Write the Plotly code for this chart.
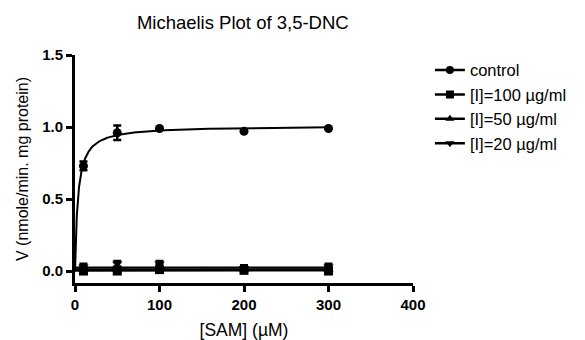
import numpy as np
import plotly.graph_objects as go

# ---- data ----
sam = [10, 50, 100, 200, 300]

control = [0.73, 0.96, 0.99, 0.97, 0.99]
control_err = [0.03, 0.05, 0.0, 0.0, 0.0]

i100 = [0.0, 0.0, 0.01, 0.005, 0.0]
i100_err = [0.01, 0.01, 0.01, 0.01, 0.01]

i50 = [0.01, 0.01, 0.03, 0.01, 0.01]
i50_err = [0.02, 0.02, 0.02, 0.02, 0.02]

i20 = [0.03, 0.05, 0.05, 0.02, 0.03]
i20_err = [0.02, 0.02, 0.02, 0.02, 0.02]

# Michaelis-Menten fit parameters (Vmax, Km) per series
fit_params = {
    "control": (1.01, 3.5),
    "[I]=100 µg/ml": (0.003, 0.05),
    "[I]=50 µg/ml": (0.013, 0.05),
    "[I]=20 µg/ml": (0.025, 0.05),
}

series = [
    ("control", control, control_err, "circle"),
    ("[I]=100 µg/ml", i100, i100_err, "square"),
    ("[I]=50 µg/ml", i50, i50_err, "triangle-up"),
    ("[I]=20 µg/ml", i20, i20_err, "triangle-down"),
]

FONT = "Liberation Sans, Arial, sans-serif"
fig = go.Figure()

xfit = np.concatenate([np.linspace(0, 20, 200), np.linspace(20, 300, 200)])
for name, y, err, sym in series:
    vmax, km = fit_params[name]
    yfit = vmax * xfit / (km + xfit)
    fig.add_trace(go.Scatter(
        x=xfit, y=yfit, mode="lines",
        line=dict(color="black", width=2),
        showlegend=False, hoverinfo="skip", cliponaxis=False,
    ))

for name, y, err, sym in series:
    fig.add_trace(go.Scatter(
        x=sam, y=y, mode="markers", name=name,
        marker=dict(symbol=sym, size=9, color="black"),
        error_y=dict(type="data", array=err, visible=True,
                     color="black", thickness=2.5, width=4),
        cliponaxis=False, legendgroup=name, showlegend=False,
    ))

# legend entries (line + symbol)
for name, y, err, sym in series:
    fig.add_trace(go.Scatter(
        x=[None], y=[None], mode="lines+markers", name=name,
        line=dict(color="black", width=2.5),
        marker=dict(symbol=sym, size=8, color="black"),
        legendgroup=name,
    ))

fig.update_layout(
    width=585, height=340,
    margin=dict(l=75, r=172, t=55, b=57, autoexpand=False),
    paper_bgcolor="white", plot_bgcolor="white",
    font=dict(family=FONT, color="black", size=13),
    title=dict(text="Michaelis Plot of 3,5-DNC", x=0.415, xanchor="center",
               y=0.935, yanchor="middle", font=dict(size=18.5, family=FONT)),
    legend=dict(x=1.05, y=1.01, xanchor="left", yanchor="top",
                font=dict(size=16.5, family=FONT), tracegroupgap=0,
                bgcolor="rgba(0,0,0,0)", itemwidth=30),
    showlegend=True,
)

fig.update_xaxes(
    range=[0, 400], tickvals=[0, 100, 200, 300, 400],
    showline=True, linecolor="black", linewidth=3,
    ticks="outside", ticklen=6, tickwidth=2.5, tickcolor="black",
    showgrid=False, zeroline=False, automargin=False,
    tickfont=dict(family=FONT, size=15, weight="bold"),
    title=dict(text="[SAM] (µM)", font=dict(size=17.5, family=FONT), standoff=12),
)
fig.update_yaxes(
    range=[-0.083, 1.5], tickvals=[0, 0.5, 1.0, 1.5], tickformat=".1f",
    showline=True, linecolor="black", linewidth=3,
    ticks="outside", ticklen=6, tickwidth=2.5, tickcolor="black",
    showgrid=False, zeroline=False, automargin=False,
    tickfont=dict(family=FONT, size=15, weight="bold"),
    title=dict(text="V (nmole/min. mg protein)", font=dict(size=16, family=FONT), standoff=10),
)

fig.write_html("out.html")
